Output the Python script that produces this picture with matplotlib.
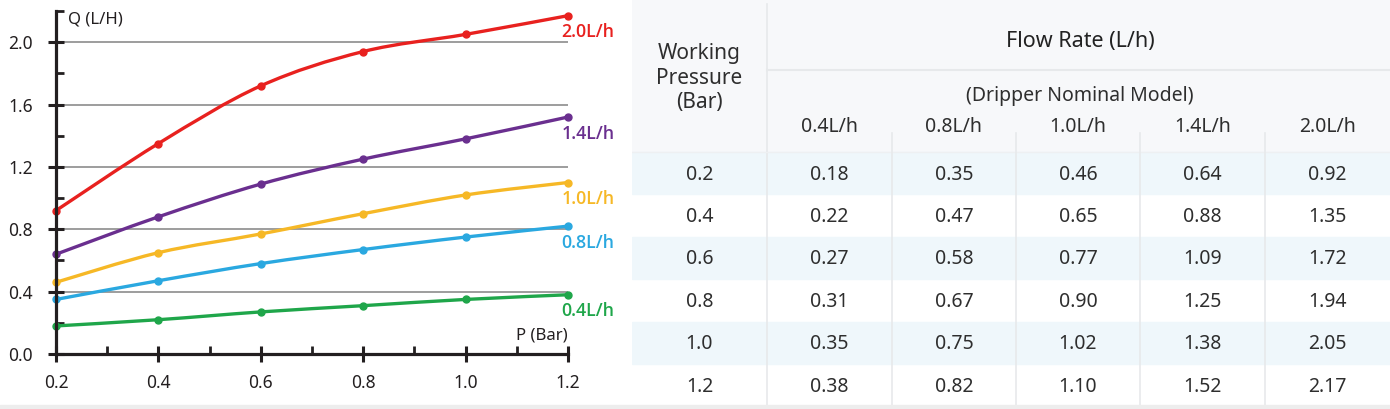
import matplotlib
matplotlib.use("Agg")
import matplotlib.pyplot as plt
from matplotlib.path import Path
from matplotlib.patches import PathPatch, Rectangle
import numpy as np

# ---------------- data ----------------
pressure = [0.2, 0.4, 0.6, 0.8, 1.0, 1.2]
models = ["0.4L/h", "0.8L/h", "1.0L/h", "1.4L/h", "2.0L/h"]
q_04 = [0.18, 0.22, 0.27, 0.31, 0.35, 0.38]
q_08 = [0.35, 0.47, 0.58, 0.67, 0.75, 0.82]
q_10 = [0.46, 0.65, 0.77, 0.90, 1.02, 1.10]
q_14 = [0.64, 0.88, 1.09, 1.25, 1.38, 1.52]
q_20 = [0.92, 1.35, 1.72, 1.94, 2.05, 2.17]
series = [q_04, q_08, q_10, q_14, q_20]
colors = ["#1fa64a", "#2aa8e0", "#f6b826", "#6a2f8f", "#e8211f"]
y_ticks = [0.0, 0.4, 0.8, 1.2, 1.6, 2.0]
x_ticks = [0.2, 0.4, 0.6, 0.8, 1.0, 1.2]

W, H = 1390, 409
fig = plt.figure(figsize=(W / 100, H / 100), dpi=100)
fig.patch.set_facecolor("white")

# ---------------- chart ----------------
ax = fig.add_axes([56 / W, 55 / H, 512 / W, 343 / H])
ax.set_xlim(0.2, 1.2)
ax.set_ylim(0, 2.2)
ax.set_facecolor("none")
for s in ["top", "right"]:
    ax.spines[s].set_visible(False)
for s in ["left", "bottom"]:
    ax.spines[s].set_linewidth(2.3)
    ax.spines[s].set_color("#231f20")
    ax.spines[s].set_zorder(5)

ax.set_yticks(y_ticks)
ax.set_yticklabels([f"{v:.1f}" for v in y_ticks])
ax.set_yticks([0.2, 0.6, 1.0, 1.4, 1.8, 2.2], minor=True)
ax.set_xticks(x_ticks)
ax.set_xticklabels([f"{v:.1f}" for v in x_ticks])
ax.set_xticks([0.3, 0.5, 0.7, 0.9, 1.1], minor=True)
ax.tick_params(which="major", direction="inout", length=11, width=2.2,
               color="#231f20", labelsize=12.5, labelcolor="#231f20")
ax.tick_params(which="minor", direction="in", length=6, width=2.0, color="#231f20")
ax.tick_params(axis="y", which="major", pad=11)
ax.tick_params(axis="x", which="major", pad=9)
for lab in ax.get_xticklabels() + ax.get_yticklabels():
    lab.set_fontfamily("Noto Sans")

ax.grid(axis="y", which="major", color="#8c8c8c", lw=1.2, zorder=0)
ax.set_axisbelow(True)


def smooth_path(xs, ys):
    pts = np.column_stack([xs, ys])
    n = len(pts)
    verts = [pts[0]]
    codes = [Path.MOVETO]
    for i in range(n - 1):
        p0 = pts[i - 1] if i > 0 else pts[i]
        p1 = pts[i]
        p2 = pts[i + 1]
        p3 = pts[i + 2] if i + 2 < n else pts[i + 1]
        c1 = p1 + (p2 - p0) / 6.0
        c2 = p2 - (p3 - p1) / 6.0
        verts += [c1, c2, p2]
        codes += [Path.CURVE4] * 3
    return Path(verts, codes)


for name, vals, c in zip(models, series, colors):
    patch = PathPatch(smooth_path(pressure, vals), fill=False, edgecolor=c,
                      lw=2.4, capstyle="round", zorder=3, clip_on=False)
    ax.add_patch(patch)
    ax.plot(pressure, vals, "o", ms=5, color=c, zorder=4, clip_on=False)
    ax.annotate(name, xy=(pressure[-1], vals[-1]), xytext=(-4.5, -12),
                textcoords="offset points", ha="left", va="center",
                fontsize=12.8, color=c, fontfamily="Open Sans",
                fontweight="semibold", annotation_clip=False)

ax.text(0.023, 0.975, "Q (L/H)", transform=ax.transAxes, ha="left", va="center",
        fontsize=12, color="#231f20", fontfamily="Noto Sans")
ax.text(1.0, 0.055, "P (Bar)", transform=ax.transAxes, ha="right", va="center",
        fontsize=12, color="#231f20", fontfamily="Noto Sans")

# ---------------- table ----------------
tx = fig.add_axes([632 / W, 0, (W - 632) / W, 1])
tx.set_xlim(632, W)
tx.set_ylim(H, 0)
tx.axis("off")

line_c = "#e7e9eb"
txt_c = "#2e2e2e"
tx.add_patch(Rectangle((632, 0), W - 632, 152, color="#f7f8fa", zorder=0))
row_top = 152
row_h = 42.4
col_edges = [632, 767, 892, 1016, 1140, 1265, W]
col_centers = [(col_edges[i] + col_edges[i + 1]) / 2 for i in range(len(col_edges) - 1)]

for i in range(len(pressure)):
    y0 = row_top + i * row_h
    if i % 2 == 0:
        tx.add_patch(Rectangle((632, y0), W - 632, row_h, color="#eff7fb", zorder=0))
    yc = y0 + row_h / 2 + 1.5
    tx.text(col_centers[0], yc, f"{pressure[i]:.1f}", ha="center", va="center",
            fontsize=14, color=txt_c, fontfamily="Noto Sans")
    for j, vals in enumerate(series):
        tx.text(col_centers[j + 1], yc, f"{vals[i]:.2f}", ha="center", va="center",
                fontsize=14, color=txt_c, fontfamily="Noto Sans")

# grid lines
tx.plot([767, 767], [4, 405], color=line_c, lw=1.2, zorder=1)
tx.plot([767, W], [70, 70], color=line_c, lw=1.5, zorder=1)
tx.plot([632, W], [152, 152], color="#eef0f2", lw=1.0, zorder=1)
for xe in col_edges[2:-1]:
    tx.plot([xe, xe], [133, 405], color=line_c, lw=1.2, zorder=1)

tx.text(col_centers[0], 78, "Working\nPressure\n(Bar)", ha="center", va="center",
        fontsize=15, color=txt_c, fontfamily="Noto Sans", linespacing=1.2)
tx.text(1080, 42, "Flow Rate (L/h)", ha="center", va="center", fontsize=15.5,
        color="#222222", fontfamily="Noto Sans", fontweight="medium")
tx.text(1080, 96, "(Dripper Nominal Model)", ha="center", va="center",
        fontsize=14, color=txt_c, fontfamily="Noto Sans")
for j, m in enumerate(models):
    tx.text(col_centers[j + 1], 127, m, ha="center", va="center", fontsize=14,
            color=txt_c, fontfamily="Noto Sans")

# bottom light strip across the figure
fig.patches.append(Rectangle((0, 0), 1, 4 / H, transform=fig.transFigure,
                             color="#ededed", zorder=0))

fig.savefig("out.png", dpi=100, facecolor="white")
